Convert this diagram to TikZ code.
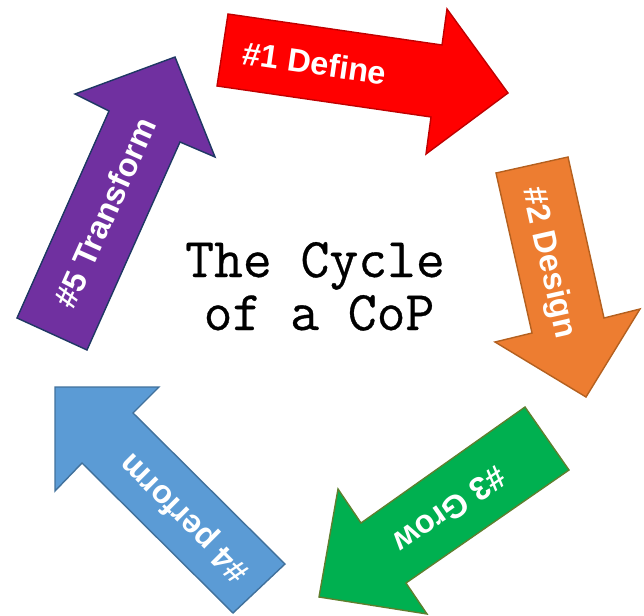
\documentclass[tikz,border=0pt]{standalone}
\usepackage{fontspec}
\setmainfont{Liberation Sans}
\newfontfamily\titlefont[FakeBold=0.6]{Latin Modern Mono}
\definecolor{cRed}{HTML}{FF0000}
\definecolor{cRedB}{HTML}{C00000}
\definecolor{cOra}{HTML}{ED7D31}
\definecolor{cOraB}{HTML}{B4601F}
\definecolor{cGrn}{HTML}{00B050}
\definecolor{cGrnB}{HTML}{5E7F2E}
\definecolor{cBlu}{HTML}{5B9BD5}
\definecolor{cBluB}{HTML}{41719C}
\definecolor{cPur}{HTML}{7030A0}
\definecolor{cPurB}{HTML}{1F3864}
\tikzset{
  blockarrow/.style={line width=1.4pt, line join=miter},
  arrowlabel/.style={text=white, font=\bfseries\fontsize{32.5}{36}\selectfont, inner sep=0pt},
  titleline/.style={font=\titlefont\fontsize{56}{60}\selectfont, anchor=base, inner sep=0pt}
}
\begin{document}
\begin{tikzpicture}[x=1pt,y=-1pt]
\useasboundingbox (0,0) rectangle (644,615);
% #1 red
\draw[blockarrow, fill=cRed, draw=cRedB]
  (228,14) -- (442,45) -- (447,9) -- (508,93) -- (426,154) -- (431,117) -- (217,86) -- cycle;
\node[arrowlabel, rotate=-8.2] (l1) at (315,63) {\#1 Define};
% #2 orange
\draw[blockarrow, fill=cOra, draw=cOraB]
  (568,157) -- (604,318) -- (640,309) -- (586,397) -- (495,342) -- (532,333) -- (496,173) -- cycle;
\node[arrowlabel, rotate=-77.3] (l2) at (548,263) {\#2 Design};
% #3 green
\draw[blockarrow, fill=cGrn, draw=cGrnB]
  (525,407) -- (569,470) -- (406,583) -- (427,614) -- (319,597) -- (338,489) -- (361,523) -- cycle;
\node[arrowlabel, rotate=-145.2] (l3) at (450,510) {\#3 Grow};
% #4 blue
\draw[blockarrow, fill=cBlu, draw=cBluB]
  (285,564) -- (233,613) -- (82,463) -- (55,491) -- (55,387) -- (159,387) -- (133,413) -- cycle;
\node[arrowlabel, rotate=135] (l4) at (185,517) {\#4 perform};
% #5 purple
\draw[blockarrow, fill=cPur, draw=cPurB]
  (17,318) -- (109,111) -- (75,94) -- (175,57) -- (215,157) -- (180,142) -- (87,350) -- cycle;
\node[arrowlabel, rotate=65.9] (l5) at (105,213) {\#5 Transform};
% title
\node[titleline] (t1) at (315,277) {The Cycle};
\node[titleline] (t2) at (319,330) {of a CoP};
\end{tikzpicture}
\end{document}
